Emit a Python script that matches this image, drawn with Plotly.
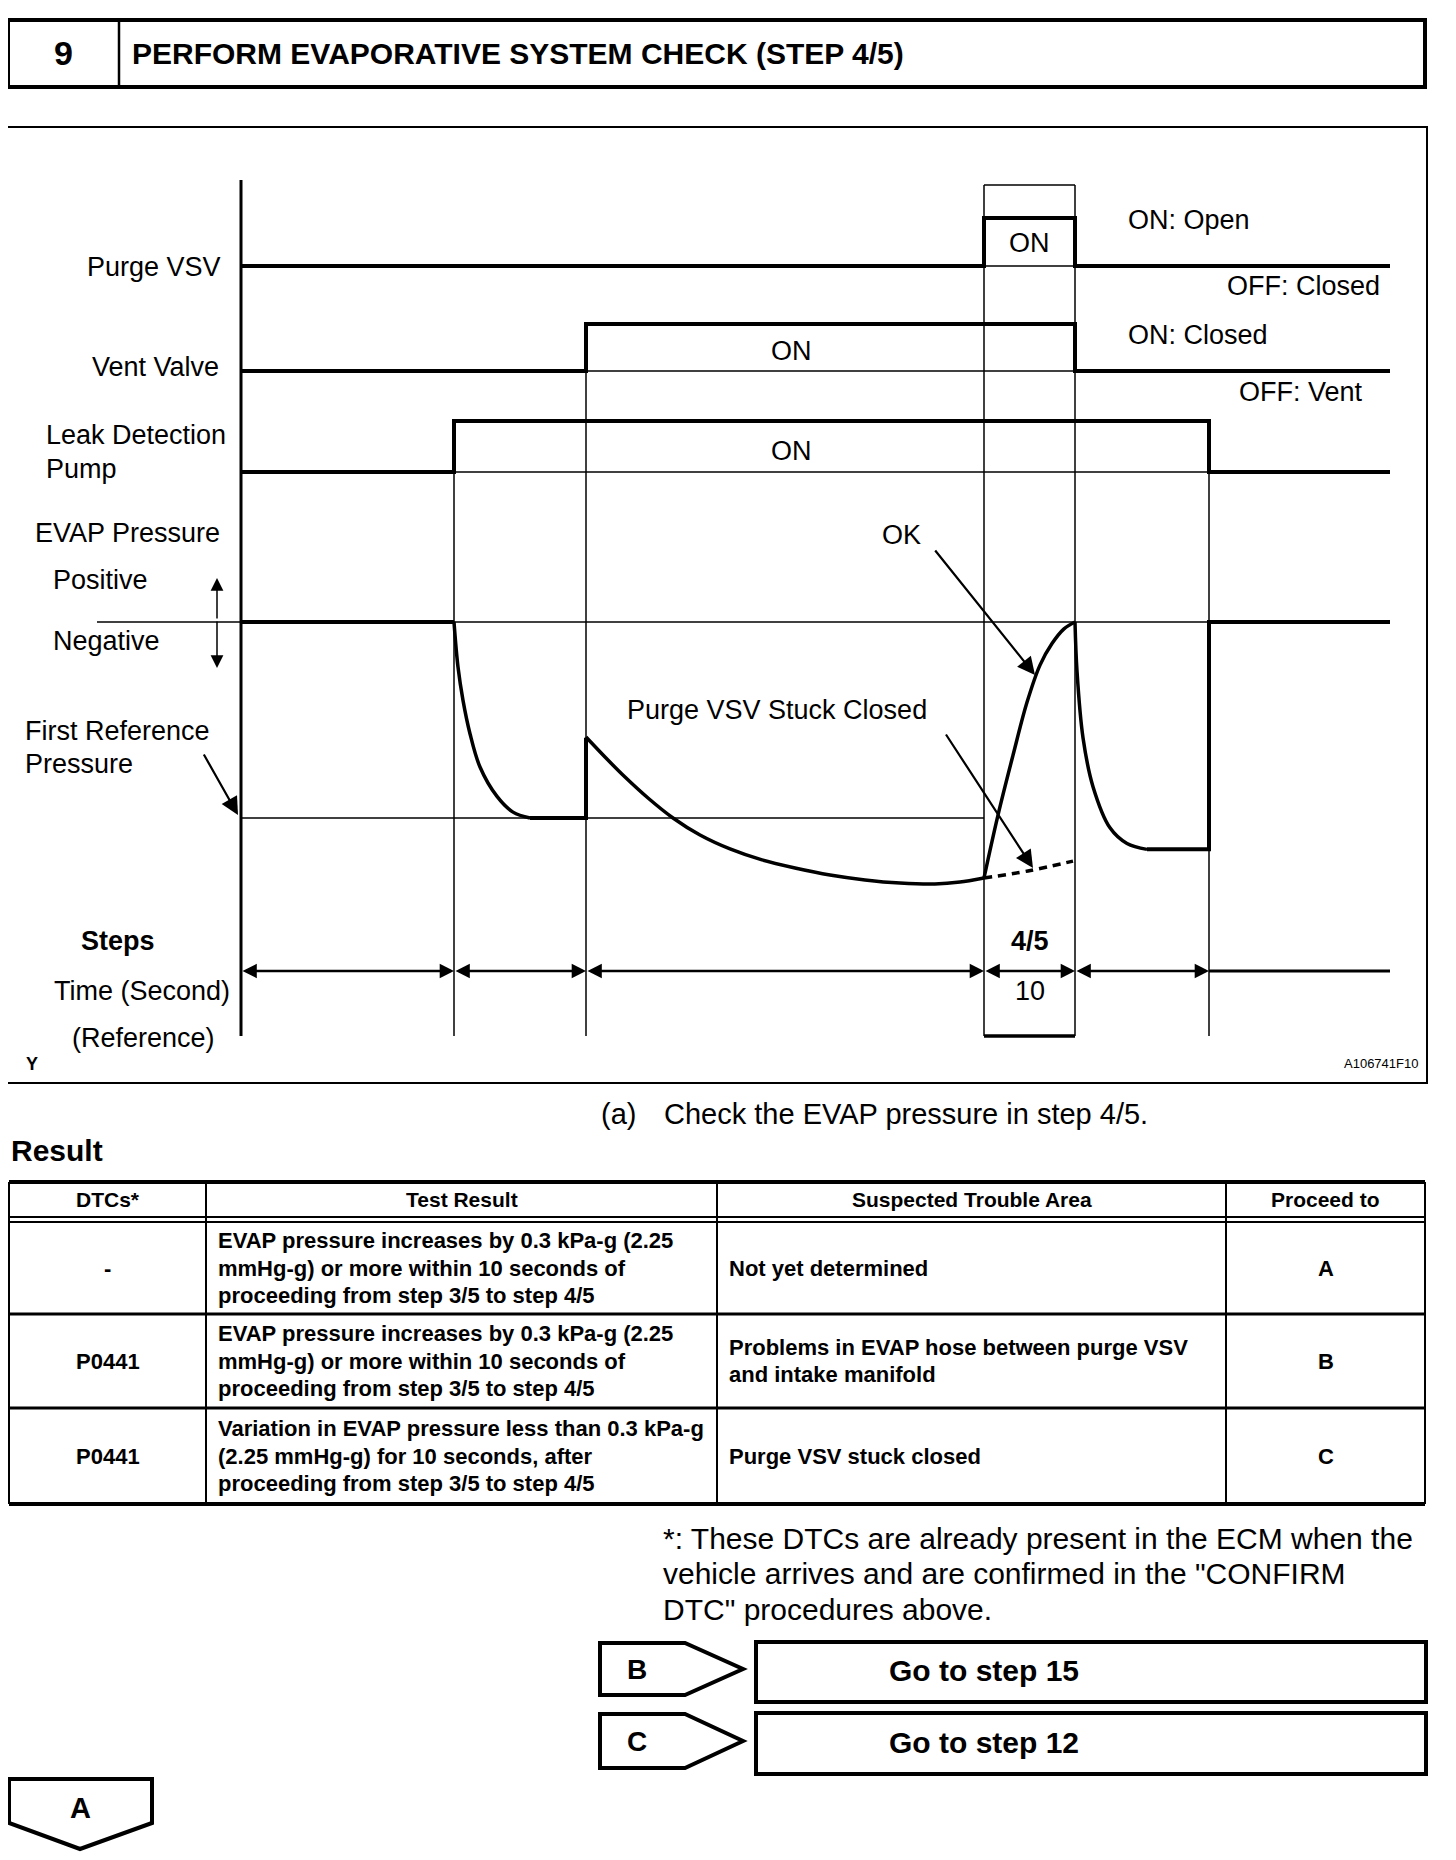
import plotly.graph_objects as go

# ------------------------------------------------------------------
# DATA
# ------------------------------------------------------------------
# Diagram time axis (diagram units): t0 .. t5 and end of chart
EVENT_T = [0.0, 21.3, 34.5, 74.3, 83.4, 96.8, 114.9]

# Signal states (0 = OFF, 1 = ON), stepped at the listed times
PURGE_T = [0.0, 74.3, 83.4, 114.9]
PURGE_ON = [0, 1, 0, 0]
VENT_T = [0.0, 34.5, 83.4, 114.9]
VENT_ON = [0, 1, 0, 0]
PUMP_T = [0.0, 21.3, 96.8, 114.9]
PUMP_ON = [0, 1, 0, 0]

# EVAP pressure (0 = atmospheric, -1 = first reference pressure)
P_BASE_T = [0.0, 21.3]
P_BASE = [0.0, 0.0]
P_DROP1_T = [21.3, 21.7, 22.2, 22.9, 23.9, 25.6, 27.2, 28.9]
P_DROP1 = [0.0, -0.23, -0.40, -0.57, -0.74, -0.89, -0.97, -1.0]
P_HOLD1_T = [28.9, 34.5, 34.5]
P_HOLD1 = [-1.0, -1.0, -0.59]
P_FALL_T = [34.5, 36.4, 38.4, 40.7, 43.2, 45.9, 48.9, 52.1, 55.4, 58.9, 62.4, 65.9, 69.4, 71.9, 74.3]
P_FALL = [-0.587, -0.689, -0.791, -0.898, -1.0, -1.087, -1.158, -1.214, -1.255, -1.291,
          -1.316, -1.332, -1.337, -1.327, -1.306]
P_OK_T = [74.3, 75.7, 77.2, 78.6, 79.9, 81.1, 82.3, 83.4]
P_OK = [-1.306, -0.985, -0.68, -0.41, -0.22, -0.11, -0.035, 0.0]
P_STUCK_T = [74.3, 78.7, 83.2]
P_STUCK = [-1.306, -1.27, -1.22]
P_DROP2_T = [83.4, 83.6, 84.2, 85.2, 86.9, 88.6, 90.6]
P_DROP2 = [0.0, -0.25, -0.59, -0.84, -1.05, -1.13, -1.16]
P_HOLD2_T = [90.6, 96.8, 96.8, 114.9]
P_HOLD2 = [-1.16, -1.16, 0.0, 0.0]
ZERO_REF_T = [-14.4, 96.8]
FIRST_REF_T = [0.0, 74.3]

# Text
TITLE_NO = "9"
TITLE = "PERFORM EVAPORATIVE SYSTEM CHECK (STEP 4/5)"
ROW_LABELS = ["Purge VSV", "Vent Valve", "Leak Detection", "Pump", "EVAP Pressure",
              "Positive", "Negative", "First Reference", "Pressure"]
STATE_NOTES = ["ON: Open", "OFF: Closed", "ON: Closed", "OFF: Vent"]
STEP_LABEL = "4/5"
STEP_TIME = "10"

TABLE_HEADERS = ["DTCs*", "Test Result", "Suspected Trouble Area", "Proceed to"]
TABLE_DTCS = ["-", "P0441", "P0441"]
TABLE_RESULTS = [
    "EVAP pressure increases by 0.3 kPa-g (2.25\nmmHg-g) or more within 10 seconds of\nproceeding from step 3/5 to step 4/5",
    "EVAP pressure increases by 0.3 kPa-g (2.25\nmmHg-g) or more within 10 seconds of\nproceeding from step 3/5 to step 4/5",
    "Variation in EVAP pressure less than 0.3 kPa-g\n(2.25 mmHg-g) for 10 seconds, after\nproceeding from step 3/5 to step 4/5",
]
TABLE_AREAS = ["Not yet determined",
               "Problems in EVAP hose between purge VSV\nand intake manifold",
               "Purge VSV stuck closed"]
TABLE_PROCEED = ["A", "B", "C"]
FOOTNOTE = ["*: These DTCs are already present in the ECM when the",
            "vehicle arrives and are confirmed in the \"CONFIRM",
            "DTC\" procedures above."]
BRANCH_KEYS = ["B", "C"]
BRANCH_TEXT = ["Go to step 15", "Go to step 12"]

# ------------------------------------------------------------------
# LAYOUT / GEOMETRY
# ------------------------------------------------------------------
OFF = 8           # page body margin
W, H = 1440, 1844
FONT = "Liberation Sans, Arial, Helvetica, sans-serif"
BLACK = "#000000"

T_PX0, PX_PER_T = 241, 10.0          # diagram time axis -> pixels
ROWS_PX = {"purge": (266, 218), "vent": (371, 324), "pump": (472, 421)}
P_ZERO_PX, P_REF_PX = 622, 818
AXIS_TOP, DIAG_BOTTOM, BOX_TOP = 180, 1036, 185
TIME_Y = 971


def yrange(px_at0, px_per_unit):
    r1 = (px_at0 - OFF) / px_per_unit
    return [r1 - H / px_per_unit, r1]


fig = go.Figure()

layout_axes = dict(
    xaxis=dict(range=[OFF, OFF + W], visible=False, fixedrange=True),
    yaxis=dict(range=[OFF + H, OFF], visible=False, fixedrange=True),
    xaxis2=dict(range=[(OFF - T_PX0) / PX_PER_T, (OFF + W - T_PX0) / PX_PER_T],
                overlaying="x", visible=False, fixedrange=True),
    yaxis2=dict(range=yrange(P_ZERO_PX, P_REF_PX - P_ZERO_PX), overlaying="y",
                visible=False, fixedrange=True),
    yaxis3=dict(range=yrange(ROWS_PX["purge"][0], ROWS_PX["purge"][0] - ROWS_PX["purge"][1]),
                overlaying="y", visible=False, fixedrange=True),
    yaxis4=dict(range=yrange(ROWS_PX["vent"][0], ROWS_PX["vent"][0] - ROWS_PX["vent"][1]),
                overlaying="y", visible=False, fixedrange=True),
    yaxis5=dict(range=yrange(ROWS_PX["pump"][0], ROWS_PX["pump"][0] - ROWS_PX["pump"][1]),
                overlaying="y", visible=False, fixedrange=True),
)


def line(x, y, ya, width, shape="linear", dash="solid", smoothing=1.0):
    fig.add_trace(go.Scatter(x=x, y=y, xaxis="x2", yaxis=ya, mode="lines",
                             line=dict(color=BLACK, width=width, shape=shape, dash=dash,
                                       smoothing=smoothing if shape == "spline" else None),
                             hoverinfo="skip", showlegend=False))


THICK, THIN = 4, 1.5

# --- signal rows ---
for t, s, ya in [(PURGE_T, PURGE_ON, "y3"), (VENT_T, VENT_ON, "y4"), (PUMP_T, PUMP_ON, "y5")]:
    on0 = t[s.index(1)]
    on1 = t[s.index(1) + 1]
    line([on0, on1], [0, 0], ya, THIN)
    line(t, s, ya, THICK, shape="hv")

# --- pressure ---
line(ZERO_REF_T, [0, 0], "y2", THIN)
line(FIRST_REF_T, [-1, -1], "y2", THIN)
line(P_BASE_T, P_BASE, "y2", THICK)
line(P_DROP1_T, P_DROP1, "y2", 3.5, shape="spline")
line(P_HOLD1_T, P_HOLD1, "y2", THICK)
line(P_FALL_T, P_FALL, "y2", 3.5, shape="spline", smoothing=0.8)
line(P_OK_T, P_OK, "y2", 3.5, shape="spline")
line(P_STUCK_T, P_STUCK, "y2", 3.5, shape="spline", dash="8px,6px")
line(P_DROP2_T, P_DROP2, "y2", 3.5, shape="spline")
line(P_HOLD2_T, P_HOLD2, "y2", THICK)

shapes = []


def seg(x0, y0, x1, y1, w, xref="x", yref="y"):
    shapes.append(dict(type="line", x0=x0, y0=y0, x1=x1, y1=y1, xref=xref, yref=yref,
                       line=dict(color=BLACK, width=w), layer="above"))


def rect(x0, y0, x1, y1, w):
    shapes.append(dict(type="rect", x0=x0, y0=y0, x1=x1, y1=y1, xref="x", yref="y",
                       line=dict(color=BLACK, width=w), fillcolor="rgba(0,0,0,0)"))


def path(pts, w):
    d = "M " + " L ".join(f"{x},{y}" for x, y in pts) + " Z"
    shapes.append(dict(type="path", path=d, xref="x", yref="y",
                       line=dict(color=BLACK, width=w), fillcolor="rgba(0,0,0,0)"))


# header box
rect(8, 20, 1425, 87, 4)
seg(119, 20, 119, 87, 2.5)
# diagram frame
rect(7, 127, 1427, 1083, 2)

# diagram verticals
t0, t1, t2, t3, t4, t5, tend = EVENT_T
seg(t0, AXIS_TOP, t0, DIAG_BOTTOM, 3, xref="x2")
seg(t1, ROWS_PX["pump"][0], t1, DIAG_BOTTOM, THIN, xref="x2")
seg(t2, ROWS_PX["vent"][0], t2, DIAG_BOTTOM, THIN, xref="x2")
seg(t3, BOX_TOP, t3, DIAG_BOTTOM, THIN, xref="x2")
seg(t4, BOX_TOP, t4, DIAG_BOTTOM, THIN, xref="x2")
seg(t5, ROWS_PX["pump"][0], t5, DIAG_BOTTOM, THIN, xref="x2")
seg(t3, BOX_TOP, t4, BOX_TOP, THIN, xref="x2")
seg(t3, DIAG_BOTTOM, t4, DIAG_BOTTOM, 3.5, xref="x2")
# time axis line after last arrow
seg(t5, TIME_Y, tend, TIME_Y, 3, xref="x2")

# table
TX = [9, 206, 717, 1226, 1425]
TY_TOP, TY_H1, TY_H2 = 1182, 1217, 1222
TY_ROWS = [1222, 1314, 1408, 1504]
seg(TX[0], TY_TOP, TX[-1], TY_TOP, 4)
seg(TX[0], TY_H1, TX[-1], TY_H1, 2)
seg(TX[0], TY_H2, TX[-1], TY_H2, 2)
for yy in TY_ROWS[1:-1]:
    seg(TX[0], yy, TX[-1], yy, 3)
seg(TX[0], TY_ROWS[-1], TX[-1], TY_ROWS[-1], 4)
for xx in TX:
    seg(xx, TY_TOP, xx, TY_ROWS[-1], 2)

# branch boxes
for i, (ytop, ybot) in enumerate([(1643, 1695), (1714, 1768)]):
    path([(600, ytop), (685, ytop), (743, (ytop + ybot) / 2), (685, ybot), (600, ybot)], 4)
for ytop, ybot in [(1642, 1702), (1713, 1774)]:
    rect(756, ytop, 1426, ybot, 4)
# A box
path([(9, 1779), (152, 1779), (152, 1823), (80, 1849), (9, 1823)], 4)

annotations = []


def txt(x, y, s, size, bold=False, xanchor="left", xref="x"):
    annotations.append(dict(x=x, y=y, xref=xref, yref="y", text=(f"<b>{s}</b>" if bold else s),
                            showarrow=False, xanchor=xanchor, yanchor="middle",
                            font=dict(family=FONT, size=size, color=BLACK)))


def arrow(x0, y0, x1, y1, width, size, both=False, xref="x"):
    annotations.append(dict(x=x1, y=y1, ax=x0, ay=y0, xref=xref, yref="y", axref=xref, ayref="y",
                            text="", showarrow=True, arrowhead=2, startarrowhead=2,
                            arrowside="end+start" if both else "end",
                            arrowwidth=width, arrowsize=size, startarrowsize=size,
                            arrowcolor=BLACK, standoff=0, startstandoff=0))


# title
txt(63, 53, TITLE_NO, 34, bold=True, xanchor="center")
txt(130, 53, TITLE, 30, bold=True)

DF = 27
txt(223, 267, ROW_LABELS[0], DF, xanchor="right")
txt(221, 367, ROW_LABELS[1], DF, xanchor="right")
txt(44, 435, ROW_LABELS[2], DF)
txt(44, 469, ROW_LABELS[3], DF)
txt(33, 533, ROW_LABELS[4], DF)
txt(51, 580, ROW_LABELS[5], DF)
txt(51, 641, ROW_LABELS[6], DF)
txt(23, 731, ROW_LABELS[7], DF)
txt(23, 764, ROW_LABELS[8], DF)
txt(118, 941, "Steps", DF, bold=True, xanchor="center")
txt(52, 991, "Time (Second)", DF)
txt(70, 1038, "(Reference)", DF)
txt(24, 1064, "Y", 18, bold=True)
txt(1420, 1063, "A106741F10", 13, xanchor="right")

txt((t3 + t4) / 2, 243, "ON", DF, xanchor="center", xref="x2")
txt((t2 + t4) / 2 - 3.9, 351, "ON", DF, xanchor="center", xref="x2")
txt((t2 + t4) / 2 - 3.9, 451, "ON", DF, xanchor="center", xref="x2")
txt(1126, 220, STATE_NOTES[0], DF)
txt(1382, 286, STATE_NOTES[1], DF, xanchor="right")
txt(1126, 335, STATE_NOTES[2], DF)
txt(1365, 392, STATE_NOTES[3], DF, xanchor="right")
txt(901, 535, "OK", DF, xanchor="center")
txt(777, 710, "Purge VSV Stuck Closed", DF, xanchor="center")
txt((t3 + t4) / 2, 941, STEP_LABEL, DF, bold=True, xanchor="center", xref="x2")
txt((t3 + t4) / 2, 991, STEP_TIME, DF, xanchor="center", xref="x2")

# callout arrows
arrow(934, 549, 1035, 675, 2.2, 1.6)
arrow(945, 733, 1033, 868, 2.2, 1.6)
arrow(203, 753, 238, 815, 2.2, 1.6)
arrow(217, 620, 217, 578, 1.5, 1.7)
arrow(217, 620, 217, 668, 1.5, 1.7)
# time arrows
for a, b in zip(EVENT_T[:-2], EVENT_T[1:-1]):
    arrow(a, TIME_Y, b, TIME_Y, 2.6, 1.1, both=True, xref="x2")

# below-diagram text
txt(599, 1114, "(a)", 29)
txt(662, 1114, "Check the EVAP pressure in step 4/5.", 29)
txt(9, 1150, "Result", 30, bold=True)

TF = 22
LS = 27.5
col_centers = [(TX[i] + TX[i + 1]) / 2 for i in range(4)]
for i, h in enumerate(TABLE_HEADERS):
    txt(col_centers[i], 1199, h, TF - 1, bold=True, xanchor="center")


def multiline(x, yc, s, xanchor):
    lines = s.split("\n")
    n = len(lines)
    for k, ln in enumerate(lines):
        txt(x, yc + (k - (n - 1) / 2) * LS, ln, TF, bold=True, xanchor=xanchor)


for r in range(3):
    yc = (TY_ROWS[r] + TY_ROWS[r + 1]) / 2
    multiline(col_centers[0], yc, TABLE_DTCS[r], "center")
    multiline(216, yc, TABLE_RESULTS[r], "left")
    multiline(727, yc, TABLE_AREAS[r], "left")
    multiline(col_centers[3], yc, TABLE_PROCEED[r], "center")

for k, ln in enumerate(FOOTNOTE):
    txt(661, 1538 + k * 35.5, ln, 30)

for k in range(2):
    yc = [1669, 1741][k]
    txt(625, yc, BRANCH_KEYS[k], 28, bold=True)
    txt(887, yc + 1, BRANCH_TEXT[k], 30, bold=True)
txt(80, 1808, "A", 29, bold=True, xanchor="center")

fig.update_layout(
    width=W, height=H, margin=dict(l=0, r=0, t=0, b=0, pad=0),
    paper_bgcolor="white", plot_bgcolor="white",
    shapes=shapes, annotations=annotations, showlegend=False,
    **layout_axes,
)

fig.write_html("out.html", config={"displayModeBar": False, "staticPlot": True})
